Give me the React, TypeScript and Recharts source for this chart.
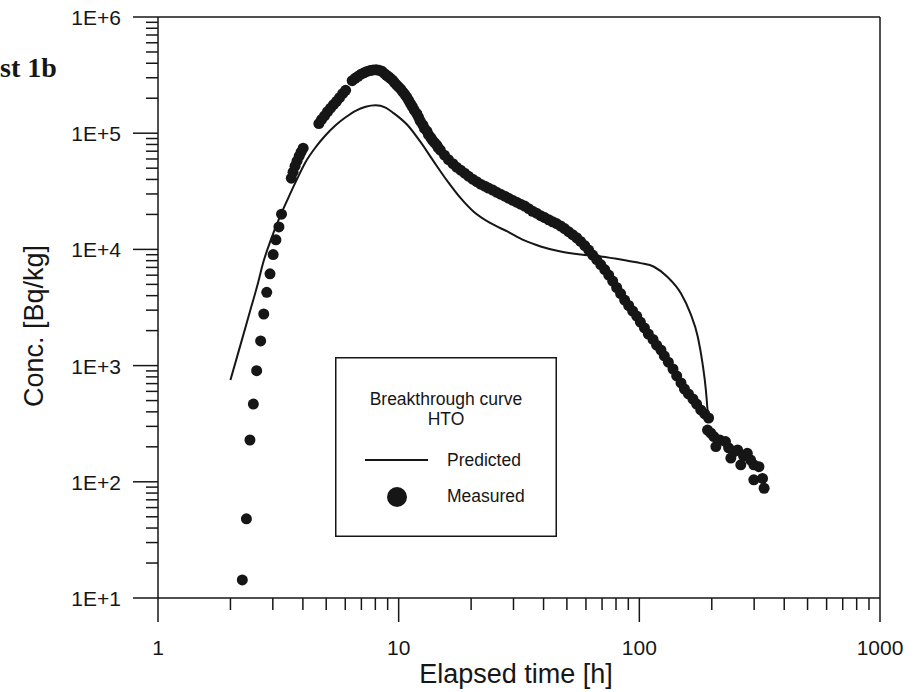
import { ComposedChart, Legend, Line, ReferenceLine, Scatter, XAxis, YAxis } from "recharts";

const INK = "#161616";
const SANS = "'Liberation Sans', Arial, sans-serif";
const SERIF = "'Liberation Serif', 'Times New Roman', serif";

// axis decades, minor ticks at 2..9 of each decade
const X_MAJOR = [1, 10, 100, 1000];
const Y_MAJOR = [10, 100, 1000, 10000, 100000, 1000000];
const MINOR_STEPS = [2, 3, 4, 5, 6, 7, 8, 9];

const withMinor = (majors: number[]) =>
  [...majors, ...majors.slice(0, -1).flatMap((d) => MINOR_STEPS.map((m) => d * m))].sort((a, b) => a - b);

const X_TICKS = withMinor(X_MAJOR);
const Y_TICKS = withMinor(Y_MAJOR);

// predicted breakthrough curve (time [h], conc [Bq/kg])
const PRED_T = [
  2.0, 2.2, 2.42, 2.59, 2.74, 2.94, 3.23, 3.49, 3.73, 4.1, 4.52, 4.97, 5.47, 6.02, 6.62, 7.29, 8.02, 8.82, 9.52,
  10.9, 12.3, 14.0, 16.0, 18.1, 20.5, 24.1, 28.4, 33.1, 38.9, 47.1, 57.0, 69.1, 86.0, 101, 115, 131, 149, 163, 175,
  183, 189, 192, 193,
];
const PRED_C = [
  752, 1500, 3010, 4930, 7780, 12000, 19700, 28200, 37900, 56300, 75800, 96100, 117000, 137000, 156000, 169000,
  174000, 166000, 149000, 117000, 84500, 56900, 38300, 27600, 21100, 16800, 14200, 12000, 10600, 9580, 9020, 8670,
  8090, 7620, 7090, 5780, 4170, 2810, 1760, 1050, 617, 415, 354,
];

// measured HTO
const MEAS_T = [
  2.24, 2.33, 2.41, 2.49, 2.57, 2.67, 2.75, 2.83, 2.92, 3.01, 3.09, 3.18, 3.26,
  3.58, 3.64, 3.71, 3.78, 3.86, 3.93, 4.01,
  4.66, 4.78, 4.92, 5.06, 5.21, 5.36, 5.52, 5.68, 5.85, 6.02,
  6.41, 6.59, 6.78, 6.98, 7.18, 7.39, 7.61, 7.83, 8.06, 8.29, 8.53,
  8.74, 8.91, 9.08, 9.25, 9.43, 9.61, 9.8, 9.99, 10.2, 10.4, 10.6, 10.8, 11.0, 11.2, 11.4, 11.6, 11.9, 12.1, 12.3,
  12.6, 12.8, 13.1, 13.3, 13.6, 13.8, 14.1, 14.4, 14.6, 14.9, 15.5, 16.1, 16.8, 17.4,
  18.1, 18.8, 19.5, 20.3, 21.1, 21.9, 22.8, 23.6, 24.6, 25.5, 26.5, 27.6, 28.6, 29.7, 30.9, 32.1, 33.4, 34.7, 36.0,
  37.4, 38.9, 40.4, 42.0, 43.6, 45.3, 47.1, 48.9, 50.8, 52.8, 54.9, 57.0, 59.3, 61.6, 64.0, 66.5, 69.1, 71.8, 74.6,
  77.5, 80.5, 83.6, 86.9, 90.3, 93.8, 97.5, 101, 105, 109, 114, 118, 123, 127, 132, 138, 143, 149, 154, 160, 167,
  173, 180, 187, 194,
  192, 198, 204, 208, 216, 228, 235, 240, 247, 256, 264, 271, 281, 290, 299, 314, 299, 325, 330,
];
const MEAS_C = [
  14.3, 48.0, 229, 467, 904, 1630, 2780, 4270, 6170, 9020, 12100, 15600, 20100,
  41000, 46200, 52000, 57400, 63400, 68600, 74300,
  121000, 131000, 141000, 153000, 164000, 176000, 188000, 202000, 219000, 234000,
  283000, 297000, 309000, 322000, 331000, 340000, 346000, 350000, 351000, 348000, 341000,
  325000, 315000, 306000, 296000, 286000, 273000, 261000, 250000, 239000, 227000, 216000, 204000, 192000, 180000,
  169000, 158000, 147000, 137000, 127000, 118000, 110000, 104000, 97100, 91800, 87100, 82900, 78900, 75000, 71400,
  64700, 59200, 54700, 51000, 48100, 45300, 42700, 40200, 38300, 36400, 35000, 33700, 32400, 31100, 29900,
  28700, 27600, 26500, 25500, 24500, 23600, 22400, 21300, 20500, 19500, 18800, 18000, 17300, 16700, 15900, 15100,
  14200, 13400, 12600, 11700, 10800, 9860, 8930, 8170, 7400, 6700, 6010, 5340, 4700, 4170, 3660, 3290, 2950, 2670,
  2370, 2110, 1870, 1680, 1500, 1360, 1210, 1070, 935, 814, 709, 629, 570, 516, 467, 415, 384, 354,
  279, 263, 245, 201, 229, 222, 196, 160, 181, 188, 140, 167, 176, 154, 140, 135, 104, 107, 88,
];

const predicted = PRED_T.map((t, i) => ({ t, c: PRED_C[i] }));
const measured = MEAS_T.map((t, i) => ({ t, c: MEAS_C[i] }));

function XTick(props: any) {
  const { x, y, payload } = props;
  const major = X_MAJOR.includes(payload.value);
  return (
    <g>
      <line x1={x} x2={x} y1={y} y2={y + (major ? 24 : 12)} stroke={INK} strokeWidth={1.5} />
      {major && (
        <text x={x} y={y + 57} textAnchor="middle" fontSize={21} fontFamily={SANS} fill={INK}>
          {payload.value}
        </text>
      )}
    </g>
  );
}

function YTick(props: any) {
  const { x, y, payload } = props;
  const major = Y_MAJOR.includes(payload.value);
  return (
    <g>
      <line x1={x} x2={x - (major ? 25 : 12)} y1={y} y2={y} stroke={INK} strokeWidth={1.5} />
      {major && (
        <text x={x - 37} y={y + 8} textAnchor="end" fontSize={21} fontFamily={SANS} fill={INK}>
          {`1E+${Math.round(Math.log10(payload.value))}`}
        </text>
      )}
    </g>
  );
}

function LegendBox() {
  const txt = { fontFamily: SANS, fontSize: 17.5, fill: INK };
  return (
    <svg width={222} height={180} style={{ display: "block" }}>
      <rect x={0.75} y={0.75} width={220.5} height={178.5} fill="#fff" stroke={INK} strokeWidth={1.5} />
      <text x={111} y={48} textAnchor="middle" {...txt}>
        Breakthrough curve
      </text>
      <text x={111} y={68} textAnchor="middle" {...txt}>
        HTO
      </text>
      <line x1={30} x2={93} y1={103} y2={103} stroke={INK} strokeWidth={2} />
      <text x={112} y={109} {...txt}>
        Predicted
      </text>
      <circle cx={62} cy={140} r={10} fill={INK} />
      <text x={112} y={145} {...txt}>
        Measured
      </text>
    </svg>
  );
}

export default function App() {
  return (
    <div style={{ position: "absolute", left: 0, top: 0, width: 914, height: 692, background: "#fff" }}>
      <ComposedChart width={914} height={692} margin={{ top: 17, right: 34, bottom: 34, left: 0 }}>
        <XAxis
          dataKey="t"
          type="number"
          scale="log"
          domain={[1, 1000]}
          allowDataOverflow
          ticks={X_TICKS}
          interval={0}
          height={60}
          tickSize={0}
          tickMargin={0}
          tickLine={false}
          axisLine={{ stroke: INK, strokeWidth: 1.5 }}
          tick={<XTick />}
          label={{
            content: () => (
              <text x={516} y={683} textAnchor="middle" fontSize={27} fontFamily={SANS} fill={INK}>
                Elapsed time [h]
              </text>
            ),
          }}
        />
        <YAxis
          dataKey="c"
          type="number"
          scale="log"
          domain={[10, 1000000]}
          allowDataOverflow
          ticks={Y_TICKS}
          interval={0}
          width={158}
          tickSize={0}
          tickMargin={0}
          tickLine={false}
          axisLine={{ stroke: INK, strokeWidth: 1.5 }}
          tick={<YTick />}
          label={{
            content: () => (
              <g>
                <text
                  x={43}
                  y={326}
                  transform="rotate(-90 43 326)"
                  textAnchor="middle"
                  fontSize={27}
                  fontFamily={SANS}
                  fill={INK}
                >
                  Conc. [Bq/kg]
                </text>
                <text x={0} y={77} fontSize={28} fontWeight="bold" fontFamily={SERIF} fill={INK}>
                  st 1b
                </text>
              </g>
            ),
          }}
        />
        <ReferenceLine y={1000000} stroke={INK} strokeWidth={1.5} />
        <ReferenceLine x={1000} stroke={INK} strokeWidth={1.5} />
        <Line
          data={predicted}
          dataKey="c"
          type="monotone"
          stroke={INK}
          strokeWidth={2}
          dot={false}
          activeDot={false}
          isAnimationActive={false}
        />
        <Scatter
          data={measured}
          dataKey="c"
          fill={INK}
          isAnimationActive={false}
          shape={(p: any) => <circle cx={p.cx} cy={p.cy} r={5.5} fill={INK} />}
        />
        <Legend
          layout="vertical"
          align="center"
          verticalAlign="middle"
          wrapperStyle={{ position: "absolute", left: 335, top: 357, width: 222, height: 180 }}
          content={() => <LegendBox />}
        />
      </ComposedChart>
    </div>
  );
}
